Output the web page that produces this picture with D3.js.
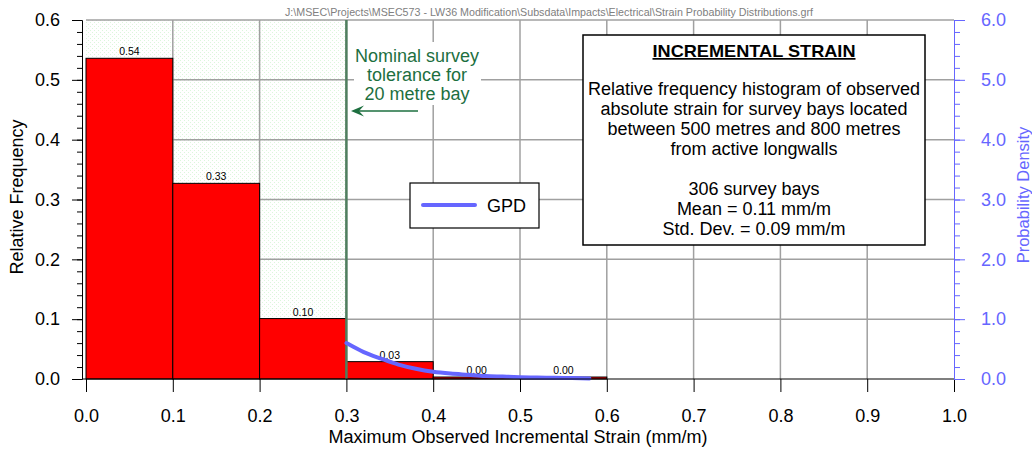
<!DOCTYPE html>
<html>
<head>
<meta charset="utf-8">
<script src="https://cdn.jsdelivr.net/npm/d3@7"></script>
<style>
  html, body { margin: 0; padding: 0; background: #ffffff; }
  svg { display: block; font-family: "Liberation Sans", Arial, sans-serif; }
</style>
</head>
<body>
<svg id="chart" width="1032" height="450"></svg>
<script>
// Histogram bins (mm/m) and relative frequency of each bin
const binLower = [0.0, 0.1, 0.2, 0.3, 0.4, 0.5];
const binUpper = [0.1, 0.2, 0.3, 0.4, 0.5, 0.6];
const relFreq  = [0.536, 0.327, 0.101, 0.029, 0.0033, 0.0033];

// Fitted generalised Pareto density for the tail
const gpdStrain  = [0.30, 0.32, 0.34, 0.36, 0.38, 0.40, 0.42, 0.44, 0.46, 0.48, 0.50, 0.52, 0.54, 0.56, 0.58];
const gpdDensity = [0.60, 0.45, 0.34, 0.24, 0.17, 0.12, 0.09, 0.07, 0.05, 0.04, 0.03, 0.025, 0.02, 0.015, 0.01];

// Axis ticks
const xTicks  = [0.0, 0.1, 0.2, 0.3, 0.4, 0.5, 0.6, 0.7, 0.8, 0.9, 1.0];
const yTicks  = [0.0, 0.1, 0.2, 0.3, 0.4, 0.5, 0.6];
const y2Ticks = [0.0, 1.0, 2.0, 3.0, 4.0, 5.0, 6.0];
const toleranceStrain = 0.3;

const headerText = "J:\\MSEC\\Projects\\MSEC573 - LW36 Modification\\Subsdata\\Impacts\\Electrical\\Strain Probability Distributions.grf";
const boxTitle = "INCREMENTAL STRAIN";
const boxLines = [
  "Relative frequency histogram of observed",
  "absolute strain for survey bays located",
  "between 500 metres and 800 metres",
  "from active longwalls"
];
const statLines = ["306 survey bays", "Mean = 0.11 mm/m", "Std. Dev. = 0.09 mm/m"];
const noteLines = ["Nominal survey", "tolerance for", "20 metre bay"];

const blue = "#6666ff";
const green = "#1d6f3f";
const gridCol = "#a0a0a0";

const svg = d3.select("#chart");

const x  = d3.scaleLinear().domain([0, 1]).range([86, 954]);
const y  = d3.scaleLinear().domain([0, 0.6]).range([379, 20]);
const y2 = d3.scaleLinear().domain([0, 6]).range([379, 20]);

// dotted fill for the tolerance zone
const defs = svg.append("defs");
const pat = defs.append("pattern").attr("id", "dots")
  .attr("patternUnits", "userSpaceOnUse").attr("width", 4).attr("height", 4);
pat.append("rect").attr("width", 4).attr("height", 4).attr("fill", "#ffffff");
pat.append("rect").attr("x", 0).attr("y", 0).attr("width", 1).attr("height", 1).attr("fill", "#dcf6dc");
pat.append("rect").attr("x", 2).attr("y", 2).attr("width", 1).attr("height", 1).attr("fill", "#dcf6dc");

// header path
svg.append("text").attr("x", 285).attr("y", 15.5)
  .attr("font-size", 11).attr("fill", "#808080")
  .attr("textLength", 528).attr("lengthAdjust", "spacingAndGlyphs")
  .text(headerText);

// tolerance zone
svg.append("rect")
  .attr("x", x(0)).attr("y", y(0.6))
  .attr("width", x(toleranceStrain) - x(0)).attr("height", y(0) - y(0.6))
  .attr("fill", "url(#dots)");

// grid
const grid = svg.append("g").attr("stroke", gridCol).attr("stroke-width", 1.5);
grid.selectAll("line.v").data(xTicks.filter(d => d > 0 && d < 1)).join("line")
  .attr("x1", d => x(d)).attr("x2", d => x(d))
  .attr("y1", y(0.6)).attr("y2", y(0));
grid.selectAll("line.h").data(yTicks.filter(d => d > 0)).join("line")
  .attr("x1", x(0)).attr("x2", x(1))
  .attr("y1", d => y(d)).attr("y2", d => y(d));

// histogram bars
const bins = binLower.map((lo, i) => ({ lo, hi: binUpper[i], f: relFreq[i] }));
svg.append("g").selectAll("rect").data(bins).join("rect")
  .attr("x", d => x(d.lo)).attr("width", d => x(d.hi) - x(d.lo))
  .attr("y", d => y(d.f)).attr("height", d => y(0) - y(d.f))
  .attr("fill", "#ff0000").attr("stroke", "#000000").attr("stroke-width", 1);

svg.append("g").selectAll("text").data(bins).join("text")
  .attr("x", d => x((d.lo + d.hi) / 2)).attr("y", d => y(d.f) - 3)
  .attr("text-anchor", "middle").attr("font-size", 10.5).attr("fill", "#000")
  .text(d => d3.format(".2f")(d.f));

// tolerance line
svg.append("line")
  .attr("x1", x(toleranceStrain)).attr("x2", x(toleranceStrain))
  .attr("y1", y(0.6)).attr("y2", y(0))
  .attr("stroke", "#4f7f5f").attr("stroke-width", 2.5);

// GPD curve
const gpd = gpdStrain.map((s, i) => [s, gpdDensity[i]]);
svg.append("path").datum(gpd)
  .attr("d", d3.line().x(d => x(d[0])).y(d => y2(d[1])).curve(d3.curveMonotoneX))
  .attr("fill", "none").attr("stroke", blue).attr("stroke-width", 4)
  .attr("stroke-linecap", "round");

// legend
const lg = svg.append("g");
lg.append("rect").attr("x", 410).attr("y", 183).attr("width", 129).attr("height", 45)
  .attr("fill", "#fff").attr("stroke", "#000").attr("stroke-width", 1.2);
lg.append("line").attr("x1", 423).attr("x2", 475).attr("y1", 205).attr("y2", 205)
  .attr("stroke", blue).attr("stroke-width", 4).attr("stroke-linecap", "round");
lg.append("text").attr("x", 487).attr("y", 212).attr("font-size", 18).text("GPD");

// description box
const tb = svg.append("g");
tb.append("rect").attr("x", 583).attr("y", 35).attr("width", 342).attr("height", 210)
  .attr("fill", "#fff").attr("stroke", "#000").attr("stroke-width", 1.5);
tb.append("text").attr("x", 754).attr("y", 57).attr("text-anchor", "middle")
  .attr("font-size", 17).attr("font-weight", "bold").attr("text-decoration", "underline")
  .attr("textLength", 203).attr("lengthAdjust", "spacingAndGlyphs")
  .text(boxTitle);
tb.selectAll("text.body").data(boxLines).join("text").attr("class", "body")
  .attr("x", 754).attr("y", (d, i) => 95 + i * 20).attr("text-anchor", "middle")
  .attr("font-size", 18).text(d => d);
tb.selectAll("text.stat").data(statLines).join("text").attr("class", "stat")
  .attr("x", 754).attr("y", (d, i) => 195 + i * 20).attr("text-anchor", "middle")
  .attr("font-size", 18).text(d => d);

// tolerance note
svg.append("rect").attr("x", 354).attr("y", 42).attr("width", 127).attr("height", 63).attr("fill", "#fff");
svg.selectAll("text.note").data(noteLines).join("text").attr("class", "note")
  .attr("x", 417).attr("y", (d, i) => 62 + i * 19).attr("text-anchor", "middle")
  .attr("font-size", 18).attr("fill", green).text(d => d);
svg.append("line").attr("x1", 356).attr("x2", 418).attr("y1", 111).attr("y2", 111)
  .attr("stroke", green).attr("stroke-width", 1.5);
svg.append("path").attr("d", "M351,111 L364,105.5 L359,111 L364,116.5 Z").attr("fill", green);

// left axis
const gl = svg.append("g").attr("transform", "translate(82,0)");
gl.call(d3.axisLeft(y).tickValues(d3.range(0, 0.6001, 0.02)).tickSize(5).tickFormat("").tickSizeOuter(0));
gl.append("g").call(d3.axisLeft(y).tickValues(yTicks).tickSize(10).tickPadding(12).tickSizeOuter(0).tickFormat(d3.format(".1f")));
gl.selectAll("path.domain").attr("stroke", "#000");
gl.selectAll("line").attr("stroke", "#000");
gl.selectAll("text").attr("font-size", 18).attr("font-family", "Liberation Sans, Arial, sans-serif").attr("fill", "#000");

// bottom axis
const gb = svg.append("g").attr("transform", "translate(0,379)");
gb.call(d3.axisBottom(x).tickValues(xTicks).tickSize(13).tickSizeOuter(0).tickFormat(d3.format(".1f")));
gb.select("path.domain").remove();
gb.append("line").attr("x1", 82).attr("x2", x(1)).attr("y1", 0).attr("y2", 0).attr("stroke", "#000").attr("stroke-width", 1.2);
gb.selectAll("line").attr("stroke", "#000");
gb.selectAll(".tick text").attr("y", 43).attr("dy", 0).attr("font-size", 18)
  .attr("font-family", "Liberation Sans, Arial, sans-serif").attr("fill", "#000");

// right axis
const gr = svg.append("g").attr("transform", `translate(${x(1)},0)`);
gr.call(d3.axisRight(y2).tickValues(d3.range(0, 6.001, 0.2)).tickSize(6).tickFormat("").tickSizeOuter(0));
gr.append("g").call(d3.axisRight(y2).tickValues(y2Ticks).tickSize(11).tickPadding(16).tickSizeOuter(0).tickFormat(d3.format(".1f")));
gr.selectAll("path.domain").attr("stroke", blue);
gr.selectAll("line").attr("stroke", blue);
gr.selectAll("text").attr("font-size", 18).attr("font-family", "Liberation Sans, Arial, sans-serif").attr("fill", blue);

// axis titles
svg.append("text").attr("transform", "translate(23,197) rotate(-90)")
  .attr("text-anchor", "middle").attr("font-size", 18).text("Relative Frequency");
svg.append("text").attr("transform", "translate(1029,195) rotate(-90)")
  .attr("text-anchor", "middle").attr("font-size", 16.5).attr("fill", blue).text("Probability Density");
svg.append("text").attr("x", 518).attr("y", 443)
  .attr("text-anchor", "middle").attr("font-size", 18).text("Maximum Observed Incremental Strain (mm/m)");
</script>
</body>
</html>
